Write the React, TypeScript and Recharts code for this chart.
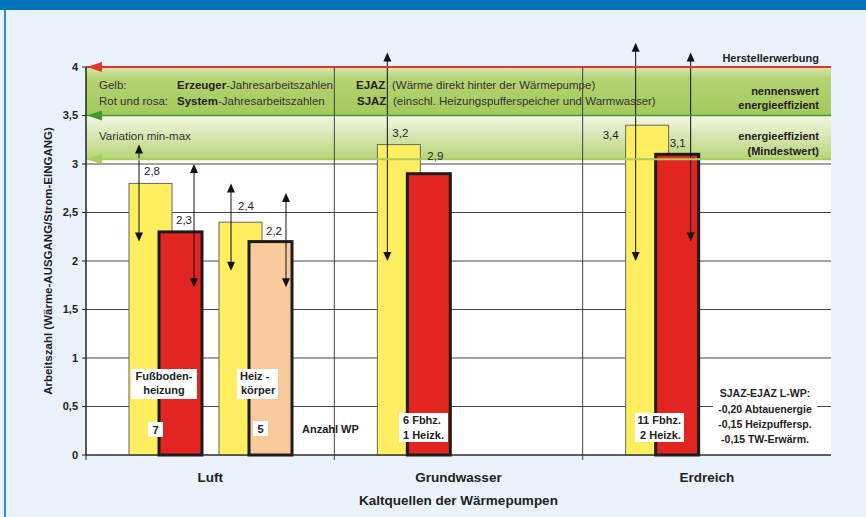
import React from "react";
import {
  BarChart,
  Bar,
  XAxis,
  YAxis,
  CartesianGrid,
  ReferenceArea,
  ReferenceLine,
  LabelList,
} from "recharts";

// Kaltquellen (Kategorien)
const categories = ["Luft", "Grundwasser", "Erdreich"];

// gelb: Erzeuger-JAZ, rot: System-JAZ (Fußbodenheizung bzw. gesamt)
const erzeugerJaz = [2.8, 3.2, 3.4];
const systemJaz = [2.3, 2.9, 3.1];
// Luft mit Heizkörpern: gelb + rosa
const erzeugerJazHk = [2.4, null, null];
const systemJazHk = [2.2, null, null];

// Variation min-max (Pfeile)
const erzeugerMin = [2.2, 2.0, 2.0];
const erzeugerMax = [3.2, 4.15, 4.25];
const systemMin = [1.73, null, 2.2];
const systemMax = [3.0, null, 4.15];
const erzeugerHkMin = [1.9, null, null];
const erzeugerHkMax = [2.8, null, null];
const systemHkMin = [1.73, null, null];
const systemHkMax = [2.7, null, null];

const yTicks = [0, 0.5, 1, 1.5, 2, 2.5, 3, 3.5, 4];

const data = categories.map((name, i) => ({
  name,
  eJaz: erzeugerJaz[i],
  sJaz: systemJaz[i],
  eHk: erzeugerJazHk[i],
  sHk: systemJazHk[i],
}));

const FONT = '"Liberation Sans", Arial, Helvetica, sans-serif';
const YELLOW = "#ffee5f";
const RED = "#e32522";
const PEACH = "#f9cb9c";

// label offsets relative to bar left / bar top (text baseline)
const LBL_E = [[15, -8], [15, -8], [-23, 14]];
const LBL_S = [[17, -8], [20, -14], [14, -7]];
const LBL_EHK = [[19, -12]];
const LBL_SHK = [[17, -7]];

const fmt = (v: number) => String(v).replace(".", ",");

function Arrow({ x, y1, y2 }: { x: number; y1: number; y2: number }) {
  const h = 9;
  const w = 4;
  return (
    <g>
      <line x1={x} x2={x} y1={y1 + h - 1} y2={y2 - h + 1} stroke="#111" strokeWidth={1} />
      <polygon points={`${x},${y1} ${x - w},${y1 + h} ${x + w},${y1 + h}`} fill="#111" />
      <polygon points={`${x},${y2} ${x - w},${y2 - h} ${x + w},${y2 - h}`} fill="#111" />
    </g>
  );
}

const makeShape =
  (values: (number | null)[], mins: (number | null)[], maxs: (number | null)[], arrowDx: number, stroke: string, sw: number) =>
  (p: any) => {
    const v = values[p.index];
    if (v == null || !p.height) return <g />;
    const base = p.y + p.height;
    const k = p.height / v;
    const lo = mins[p.index];
    const hi = maxs[p.index];
    return (
      <g>
        <rect x={p.x} y={p.y} width={p.width} height={p.height} fill={p.fill} stroke={stroke} strokeWidth={sw} />
        {lo != null && hi != null && <Arrow x={p.x + arrowDx} y1={base - hi * k} y2={base - lo * k} />}
      </g>
    );
  };

const makeLabel = (values: (number | null)[], offsets: number[][]) => (p: any) => {
  if (p.value == null) return null;
  const vb = p.viewBox ?? p;
  const i = p.index ?? values.indexOf(Number(p.value));
  const o = offsets[i] ?? [15, -8];
  return (
    <text x={vb.x + o[0]} y={vb.y + o[1]} fontSize={11.5} fill="#222" fontFamily={FONT}>
      {fmt(Number(p.value))}
    </text>
  );
};

const arrowLine = (color: string, width: number) => (p: any) =>
  (
    <g>
      <line x1={p.x1} y1={p.y1} x2={p.x2} y2={p.y2} stroke={color} strokeWidth={width} />
      <polygon points={`${p.x1 + 1},${p.y1} ${p.x1 + 16},${p.y1 - 5} ${p.x1 + 16},${p.y1 + 5}`} fill={color} />
    </g>
  );

// category divider that pokes a little below the x axis like a tick
const divider = (color: string) => (p: any) =>
  (
    <line x1={p.x1} x2={p.x2} y1={Math.min(p.y1, p.y2)} y2={Math.max(p.y1, p.y2) + 5} stroke={color} strokeWidth={1} />
  );

function Box({ x, y, w, h }: { x: number; y: number; w: number; h: number }) {
  return <rect x={x} y={y} width={w} height={h} fill="#fff" />;
}

function Overlay() {
  const t = { fontFamily: FONT, fontSize: 11.5, fill: "#333" };
  const b = { fontFamily: FONT, fontSize: 11, fill: "#222", fontWeight: 700 };
  return (
    <svg width={866} height={517} style={{ position: "absolute", left: 0, top: 0, pointerEvents: "none" }}>
      {/* legend text in green bands */}
      <text x={99} y={89} {...t}>Gelb:</text>
      <text x={99} y={105} {...t}>Rot und rosa:</text>
      <text x={177} y={89} {...t}>
        <tspan fontWeight={700} fill="#222">Erzeuger</tspan>-Jahresarbeitszahlen
      </text>
      <text x={177} y={105} {...t}>
        <tspan fontWeight={700} fill="#222">System</tspan>-Jahresarbeitszahlen
      </text>
      <text x={356} y={89} {...t} fontWeight={700} fill="#222">EJAZ</text>
      <text x={392} y={89} {...t}>(Wärme direkt hinter der Wärmepumpe)</text>
      <text x={357} y={105} {...t} fontWeight={700} fill="#222">SJAZ</text>
      <text x={393} y={105} {...t}>(einschl. Heizungspufferspeicher und Warmwasser)</text>
      <text x={99} y={140} {...t}>Variation min-max</text>

      <g textAnchor="end">
        <text x={819} y={62} {...b}>Herstellerwerbung</text>
        <text x={819} y={95} {...b}>nennenswert</text>
        <text x={819} y={109} {...b}>energieeffizient</text>
        <text x={819} y={140} {...b}>energieeffizient</text>
        <text x={819} y={154.5} {...b}>(Mindestwert)</text>
      </g>

      {/* annotations in bars */}
      <Box x={131} y={369} w={66} h={30} />
      <text x={164} y={380} {...b} textAnchor="middle">Fußboden-</text>
      <text x={164} y={394} {...b} textAnchor="middle">heizung</text>
      <Box x={237} y={369} w={41} h={30} />
      <text x={240} y={380} {...b}>Heiz -</text>
      <text x={241} y={394} {...b}>körper</text>
      <Box x={148} y={422} w={15} h={15} />
      <text x={155.5} y={433.5} {...b} textAnchor="middle">7</text>
      <Box x={253} y={421} w={15} h={15} />
      <text x={260.5} y={432.5} {...b} textAnchor="middle">5</text>
      <text x={302} y={433} {...b}>Anzahl WP</text>

      <Box x={399} y={413} w={49} h={29} />
      <text x={403} y={424} {...b}>6 Fbhz.</text>
      <text x={403} y={439} {...b}>1 Heizk.</text>
      <Box x={635} y={413} w={49} h={29} />
      <text x={681} y={424} {...b} textAnchor="end">11 Fbhz.</text>
      <text x={681} y={439} {...b} textAnchor="end">2 Heizk.</text>

      <Box x={713} y={385} w={104} h={62} />
      <g textAnchor="middle">
        <text x={765} y={397} {...b} fontSize={10.5}>SJAZ-EJAZ  L-WP:</text>
        <text x={765} y={412.5} {...b} fontSize={10.5}>-0,20 Abtauenergie</text>
        <text x={765} y={427.5} {...b} fontSize={10.5}>-0,15 Heizpuffersp.</text>
        <text x={765} y={442.5} {...b} fontSize={10.5}>-0,15 TW-Erwärm.</text>
      </g>

      {/* axis titles */}
      <text
        transform="translate(52,261) rotate(-90)"
        textAnchor="middle"
        {...b}
        fontSize={11.5}
      >
        Arbeitszahl (Wärme-AUSGANG/Strom-EINGANG)
      </text>
      <text x={458.5} y={505} textAnchor="middle" {...b} fontSize={13.5}>
        Kaltquellen der Wärmepumpen
      </text>
    </svg>
  );
}

export default function App() {
  return (
    <div style={{ position: "relative", width: 866, height: 517, background: "#eaf2fb", fontFamily: FONT, overflow: "hidden" }}>
      <style>{"body{margin:0}"}</style>
      <div style={{ position: "absolute", left: 0, top: 0, width: 866, height: 10, background: "#0072bc" }} />
      <div style={{ position: "absolute", left: 4, top: 10, width: 2, height: 507, background: "#2f8ad6" }} />
      <div style={{ position: "absolute", left: 0, top: 0 }}>
        <BarChart
          width={866}
          height={517}
          data={data}
          margin={{ top: 67, right: 35, bottom: 7, left: 26 }}
          barSize={43}
          barGap={-13}
        >
          <defs>
            <linearGradient id="gUpper" x1="0" y1="0" x2="0" y2="1">
              <stop offset="0%" stopColor="#d6e8ab" />
              <stop offset="25%" stopColor="#b4d372" />
              <stop offset="100%" stopColor="#a3c95b" />
            </linearGradient>
            <linearGradient id="gLower" x1="0" y1="0" x2="0" y2="1">
              <stop offset="0%" stopColor="#f4f8e6" />
              <stop offset="100%" stopColor="#b6d477" />
            </linearGradient>
          </defs>
          <CartesianGrid vertical={false} stroke="#454545" fill="#fff" />
          <ReferenceArea y1={3.5} y2={4} fill="url(#gUpper)" fillOpacity={1} stroke="none" />
          <ReferenceArea y1={3.05} y2={3.5} fill="url(#gLower)" fillOpacity={1} stroke="none" />
          <ReferenceLine y={3.05} shape={arrowLine("#a6cf5c", 2)} />
          <ReferenceLine y={3.5} shape={arrowLine("#3f9b2f", 1.5)} />
          <ReferenceLine y={4} shape={arrowLine("#e5322d", 2)} />
          <ReferenceLine x="Luft" position="start" shape={divider("#222")} />
          <ReferenceLine x="Grundwasser" position="start" shape={divider("#444")} />
          <ReferenceLine x="Erdreich" position="start" shape={divider("#444")} />
          <ReferenceLine x="Erdreich" position="end" shape={divider("#333")} />
          <XAxis
            dataKey="name"
            height={55}
            tickLine={false}
            tickSize={6}
            tickMargin={11}
            axisLine={{ stroke: "#222" }}
            tick={{ fontSize: 13.5, fontWeight: 700, fill: "#222", fontFamily: FONT }}
          />
          <YAxis
            type="number"
            domain={[0, 4]}
            ticks={yTicks}
            width={60}
            tickSize={4}
            tickMargin={4}
            tickFormatter={(v: number) => fmt(v)}
            axisLine={{ stroke: "#222" }}
            tickLine={{ stroke: "#222" }}
            tick={{ fontSize: 11, fontWeight: 700, fill: "#222", fontFamily: FONT }}
          />
          <Bar
            dataKey="eJaz"
            fill={YELLOW}
            isAnimationActive={false}
            shape={makeShape(erzeugerJaz, erzeugerMin, erzeugerMax, 10, "#666", 1)}
          >
            <LabelList dataKey="eJaz" content={makeLabel(erzeugerJaz, LBL_E)} />
          </Bar>
          <Bar
            dataKey="sJaz"
            fill={RED}
            isAnimationActive={false}
            shape={makeShape(systemJaz, systemMin, systemMax, 35, "#1c1c1c", 3)}
          >
            <LabelList dataKey="sJaz" content={makeLabel(systemJaz, LBL_S)} />
          </Bar>
          <Bar dataKey="gap" fill="none" isAnimationActive={false} />
          <Bar
            dataKey="eHk"
            fill={YELLOW}
            isAnimationActive={false}
            shape={makeShape(erzeugerJazHk, erzeugerHkMin, erzeugerHkMax, 12, "#666", 1)}
          >
            <LabelList dataKey="eHk" content={makeLabel(erzeugerJazHk, LBL_EHK)} />
          </Bar>
          <Bar
            dataKey="sHk"
            fill={PEACH}
            isAnimationActive={false}
            shape={makeShape(systemJazHk, systemHkMin, systemHkMax, 37, "#1c1c1c", 3)}
          >
            <LabelList dataKey="sHk" content={makeLabel(systemJazHk, LBL_SHK)} />
          </Bar>
        </BarChart>
      </div>
      <Overlay />
    </div>
  );
}
